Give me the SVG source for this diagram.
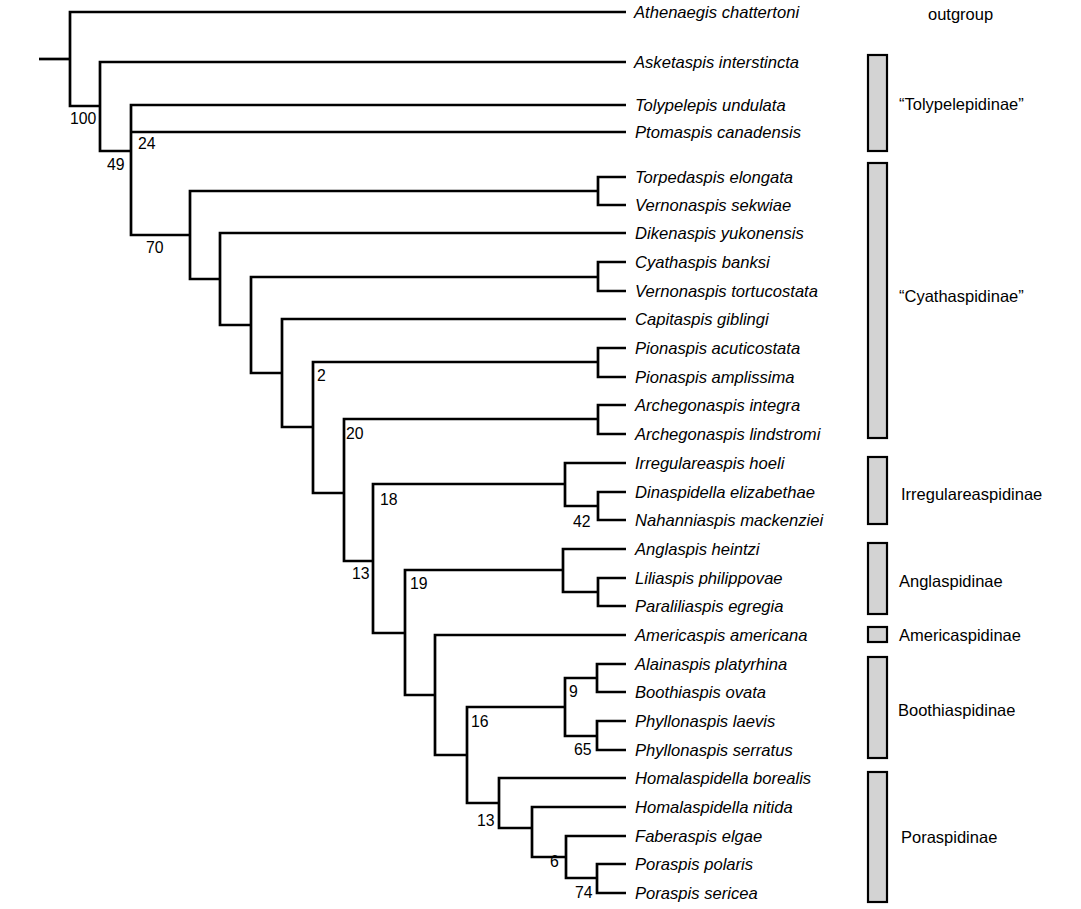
<svg xmlns="http://www.w3.org/2000/svg" width="1081" height="909" viewBox="0 0 1081 909">
<style>
.br{fill:none;stroke:#000;stroke-width:2.7;stroke-linejoin:miter}
.leaf{font-family:"Liberation Sans",Arial,sans-serif;font-style:italic;font-size:16.6px;fill:#000}
.sup{font-family:"Liberation Sans",Arial,sans-serif;font-size:15.8px;fill:#000}
.grp{font-family:"Liberation Sans",Arial,sans-serif;font-size:16.5px;fill:#000}
.bar{fill:#d3d3d3;stroke:#000;stroke-width:2.2}
</style>
<rect width="1081" height="909" fill="#fff"/>
<g id="connectors">
<path class="br" d="M39,59 H70"/>
<path class="br" d="M626,12 H70 V106 H100"/>
<path class="br" d="M626,62 H100 V151 H131"/>
<path class="br" d="M626,105 H131 V235 H190 M131,132 H626"/>
<path class="br" d="M598,191 H190 V279 H220"/>
<path class="br" d="M626,177 H598 V205 H626"/>
<path class="br" d="M626,233 H220 V325 H251"/>
<path class="br" d="M598,277 H251 V373 H282"/>
<path class="br" d="M626,262 H598 V291 H626"/>
<path class="br" d="M626,319 H282 V427 H313"/>
<path class="br" d="M598,362 H313 V493 H344"/>
<path class="br" d="M626,348 H598 V377 H626"/>
<path class="br" d="M598,419 H344 V561 H373"/>
<path class="br" d="M626,405 H598 V434 H626"/>
<path class="br" d="M565,484 H373 V633 H405"/>
<path class="br" d="M626,463 H565 V506 H598"/>
<path class="br" d="M626,492 H598 V520 H626"/>
<path class="br" d="M563,570 H405 V695 H435"/>
<path class="br" d="M626,549 H563 V592 H598"/>
<path class="br" d="M626,578 H598 V606 H626"/>
<path class="br" d="M626,635 H435 V755 H467"/>
<path class="br" d="M565,707 H467 V803 H499"/>
<path class="br" d="M597,678 H565 V736 H597"/>
<path class="br" d="M626,664 H597 V692 H626"/>
<path class="br" d="M626,721 H597 V750 H626"/>
<path class="br" d="M626,778 H499 V828 H532"/>
<path class="br" d="M626,807 H532 V857 H566"/>
<path class="br" d="M626,836 H566 V878 H597"/>
<path class="br" d="M626,864 H597 V893 H626"/>
</g>
<g id="support">
<text class="sup" x="70" y="124">100</text>
<text class="sup" x="138" y="149">24</text>
<text class="sup" x="107" y="170">49</text>
<text class="sup" x="146" y="253">70</text>
<text class="sup" x="317" y="381">2</text>
<text class="sup" x="346" y="439">20</text>
<text class="sup" x="380" y="505">18</text>
<text class="sup" x="573" y="527">42</text>
<text class="sup" x="352" y="579">13</text>
<text class="sup" x="410" y="589">19</text>
<text class="sup" x="569" y="697">9</text>
<text class="sup" x="471" y="727">16</text>
<text class="sup" x="574" y="755">65</text>
<text class="sup" x="477" y="826">13</text>
<text class="sup" x="550" y="867">6</text>
<text class="sup" x="575" y="898">74</text>
</g>
<g id="taxa">
<text class="leaf" x="634" y="18">Athenaegis chattertoni</text>
<text class="leaf" x="634" y="68">Asketaspis interstincta</text>
<text class="leaf" x="635" y="111">Tolypelepis undulata</text>
<text class="leaf" x="635" y="138">Ptomaspis canadensis</text>
<text class="leaf" x="635" y="183">Torpedaspis elongata</text>
<text class="leaf" x="635" y="211">Vernonaspis sekwiae</text>
<text class="leaf" x="635" y="239">Dikenaspis yukonensis</text>
<text class="leaf" x="635" y="268">Cyathaspis banksi</text>
<text class="leaf" x="635" y="297">Vernonaspis tortucostata</text>
<text class="leaf" x="635" y="325">Capitaspis giblingi</text>
<text class="leaf" x="635" y="354">Pionaspis acuticostata</text>
<text class="leaf" x="635" y="383">Pionaspis amplissima</text>
<text class="leaf" x="635" y="411">Archegonaspis integra</text>
<text class="leaf" x="635" y="440">Archegonaspis lindstromi</text>
<text class="leaf" x="635" y="469">Irregulareaspis hoeli</text>
<text class="leaf" x="635" y="498">Dinaspidella elizabethae</text>
<text class="leaf" x="635" y="526">Nahanniaspis mackenziei</text>
<text class="leaf" x="635" y="555">Anglaspis heintzi</text>
<text class="leaf" x="635" y="584">Liliaspis philippovae</text>
<text class="leaf" x="635" y="612">Paraliliaspis egregia</text>
<text class="leaf" x="635" y="641">Americaspis americana</text>
<text class="leaf" x="635" y="670">Alainaspis platyrhina</text>
<text class="leaf" x="635" y="698">Boothiaspis ovata</text>
<text class="leaf" x="635" y="727">Phyllonaspis laevis</text>
<text class="leaf" x="635" y="756">Phyllonaspis serratus</text>
<text class="leaf" x="635" y="784">Homalaspidella borealis</text>
<text class="leaf" x="635" y="813">Homalaspidella nitida</text>
<text class="leaf" x="635" y="842">Faberaspis elgae</text>
<text class="leaf" x="635" y="870">Poraspis polaris</text>
<text class="leaf" x="635" y="899">Poraspis sericea</text>
</g>
<g id="groups">
<g id="g-outgroup"><text class="grp" x="928" y="20">outgroup</text></g>
<g id="g-toly"><rect class="bar" x="868" y="55" width="19" height="96"/><text class="grp" x="899" y="110">“Tolypelepidinae”</text></g>
<g id="g-cyath"><rect class="bar" x="868" y="163" width="19" height="275"/><text class="grp" x="899" y="302">“Cyathaspidinae”</text></g>
<g id="g-irreg"><rect class="bar" x="868" y="457" width="19" height="67"/><text class="grp" x="901" y="500">Irregulareaspidinae</text></g>
<g id="g-angl"><rect class="bar" x="868" y="543" width="19" height="71"/><text class="grp" x="899" y="587">Anglaspidinae</text></g>
<g id="g-amer"><rect class="bar" x="868" y="627" width="19" height="15"/><text class="grp" x="899" y="641">Americaspidinae</text></g>
<g id="g-booth"><rect class="bar" x="868" y="657" width="19" height="101"/><text class="grp" x="898" y="716">Boothiaspidinae</text></g>
<g id="g-poras"><rect class="bar" x="868" y="772" width="19" height="130"/><text class="grp" x="901" y="843">Poraspidinae</text></g>
</g>
</svg>
